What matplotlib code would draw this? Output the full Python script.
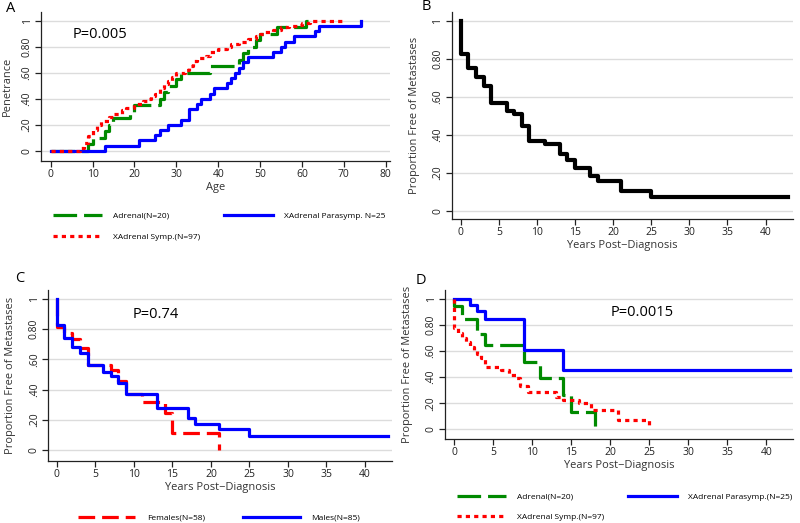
import matplotlib
matplotlib.use("Agg")
import matplotlib.pyplot as plt

plt.rcParams['font.family'] = ['Open Sans', 'DejaVu Sans']
plt.rcParams['lines.scale_dashes'] = False

# ---------------- Data ----------------
# Panel A: penetrance by age
age_adrenal = [0, 9, 10, 13, 14, 15, 19, 20, 26, 27, 28, 30, 31, 38, 45, 46, 47, 49, 50, 54, 61, 61.5]
pen_adrenal = [0, .05, .10, .15, .20, .25, .30, .35, .40, .45, .50, .55, .60, .65, .70, .75, .80, .85, .90, .95, 1.0, 1.0]

age_parasymp = [0, 13, 21, 25, 26, 28, 31, 33, 35, 36, 38, 39, 42, 43, 44, 45, 46, 47, 53, 55, 56, 58, 63, 64, 74, 74]
pen_parasymp = [0, .04, .08, .12, .16, .20, .24, .32, .36, .40, .44, .48, .52, .56, .60, .64, .68, .72, .76, .80, .84, .88, .92, .96, 1.0, 1.0]

age_symp = [0, 7, 8, 9, 10, 11, 12, 14, 15, 17, 18, 20, 22, 23, 24, 25, 26, 27, 28, 29, 30, 32, 33, 34, 35, 37,
            38, 40, 42, 43, 45, 47, 49, 50, 51, 53, 55, 57, 59, 60, 62, 70]
pen_symp = [0, .02, .06, .11, .16, .20, .23, .26, .28, .31, .33, .36, .38, .40, .42, .44, .48, .51, .54, .57, .60, .62, .65, .69, .71, .73,
            .76, .78, .80, .82, .84, .86, .88, .90, .91, .93, .95, .96, .97, .98, 1.0, 1.0]

# Panel B: overall metastasis-free
yrs_all = [0, 0, 1, 2, 3, 4, 6, 7, 8, 9, 11, 13, 14, 15, 17, 18, 21, 25, 43]
free_all = [1.0, .825, .75, .705, .655, .565, .525, .51, .445, .365, .35, .30, .265, .225, .185, .155, .105, .07, .07]

# Panel C: by sex
yrs_female = [0, 0, 1, 2, 3, 4, 7, 8, 9, 11, 14, 15, 21, 21]
free_female = [1.0, .815, .775, .735, .675, .565, .53, .455, .37, .32, .245, .115, 0.0, 0.0]
yrs_male = [0, 0, 1, 2, 3, 4, 6, 7, 8, 9, 13, 17, 18, 21, 25, 43]
free_male = [1.0, .83, .74, .68, .64, .56, .52, .49, .445, .37, .28, .21, .175, .14, .095, .095]

# Panel D: by location
yrs_adrenal = [0, 0, 1, 3, 4, 9, 11, 14, 15, 18, 18]
free_adrenal = [1.0, .95, .85, .735, .65, .52, .39, .265, .13, 0.0, 0.0]
yrs_parasymp = [0, 2, 3, 4, 9, 14, 43]
free_parasymp = [1.0, .955, .905, .85, .61, .455, .455]
yrs_symp = [0, 0, .5, 1, 1.5, 2, 2.5, 3, 3.5, 4, 6, 7, 8, 8.5, 9.5, 13, 14, 16, 17.5, 21, 25, 25]
free_symp = [1.0, .78, .74, .70, .67, .63, .61, .58, .55, .48, .455, .42, .39, .33, .29, .25, .225, .20, .145, .07, 0.0, 0.0]

ytick_vals = [0, .2, .4, .6, .8, 1]
ytick_labels = ["0", ".20", ".40", ".60", "0.80", "1"]

labels_A = ["Adrenal(N=20)", "XAdrenal Symp.(N=97)", "XAdrenal Parasymp. N=25"]
labels_C = ["Females(N=58)", "Males(N=85)"]
labels_D = ["Adrenal(N=20)", "XAdrenal Symp.(N=97)", "XAdrenal Parasymp.(N=25)"]

GREEN = '#008a00'
BLUE = '#0000ff'
RED = '#ff0000'
LW = 2.3
DASH_G = (0, (17, 5))
DOT_R = (0, (3, 3))
DASH_R = (0, (12, 5, 12, 5))
LEG_FS = 6.0

fig = plt.figure(figsize=(8, 5.23), dpi=100)
W, H = 800, 523


def axes_px(l, t, r, b):
    return fig.add_axes([l / W, 1 - b / H, (r - l) / W, (b - t) / H])


def style(ax, xlim, ylim, xticks, xlabel, ylabel, ypad=9):
    ax.set_xlim(*xlim)
    ax.set_ylim(*ylim)
    ax.set_xticks(xticks)
    ax.set_yticks(ytick_vals)
    ax.set_yticklabels(ytick_labels, rotation=90, va='center')
    ax.grid(axis='y', color='#dcdcdc', lw=1.0)
    ax.grid(axis='x', visible=False)
    ax.set_axisbelow(True)
    for s in ['top', 'right']:
        ax.spines[s].set_visible(False)
    for s in ['left', 'bottom']:
        ax.spines[s].set_linewidth(0.9)
        ax.spines[s].set_color('#222222')
    ax.tick_params(direction='out', length=4, width=0.9, color='#222222',
                   labelsize=7.5, pad=2, labelcolor='#222222')
    ax.set_xlabel(xlabel, fontsize=7.9, color='#333333', labelpad=1)
    ax.set_ylabel(ylabel, fontsize=7.9, color='#333333', labelpad=ypad)


# ---- Panel A ----
axA = axes_px(41, 12, 390, 161)
lA1, = axA.step(age_adrenal, pen_adrenal, where='post', color=GREEN, lw=LW, ls=DASH_G)
lA3, = axA.step(age_parasymp, pen_parasymp, where='post', color=BLUE, lw=LW)
lA2, = axA.step(age_symp, pen_symp, where='post', color=RED, lw=LW, ls=DOT_R)
style(axA, (-2.3, 81), (-0.079, 1.067), range(0, 81, 10), "Age", "Penetrance", ypad=6)
fig.text(73 / W, 1 - 34 / H, "P=0.005", fontsize=10.5, va='center', ha='left')
fig.text(11 / W, 1 - 8 / H, "A", fontsize=10.5, va='center', ha='center')
fig.legend([lA1, lA2, lA3], labels_A, loc='upper left', bbox_to_anchor=(53 / W, 1 - 212 / H),
           ncol=2, frameon=False, fontsize=LEG_FS, borderpad=0, borderaxespad=0,
           handlelength=5.9, handletextpad=1.3, columnspacing=2.9, labelspacing=1.55)

# ---- Panel B ----
axB = axes_px(451.7, 12, 793, 219)
axB.step(yrs_all, free_all, where='post', color='black', lw=3.0)
style(axB, (-1.2, 43.6), (-0.044, 1.046), range(0, 41, 5), "Years Post\u2212Diagnosis",
      "Proportion Free of Metastases")
fig.text(426 / W, 1 - 7 / H, "B", fontsize=10.5, va='center', ha='center')

# ---- Panel C ----
axC = axes_px(48.3, 290, 392, 461)
lC1, = axC.step(yrs_female, free_female, where='post', color=RED, lw=LW, ls=DASH_R)
lC2, = axC.step(yrs_male, free_male, where='post', color=BLUE, lw=LW)
style(axC, (-1.1, 43.5), (-0.073, 1.06), range(0, 41, 5), "Years Post\u2212Diagnosis",
      "Proportion Free of Metastases")
fig.text(133 / W, 1 - 315 / H, "P=0.74", fontsize=10.5, va='center', ha='left')
fig.text(20 / W, 1 - 278 / H, "C", fontsize=10.5, va='center', ha='center')
fig.legend([lC1, lC2], labels_C, loc='upper left', bbox_to_anchor=(78 / W, 1 - 514 / H),
           ncol=2, frameon=False, fontsize=LEG_FS, borderpad=0, borderaxespad=0,
           handlelength=6.85, handletextpad=1.43, columnspacing=4.5)

# ---- Panel D ----
axD = axes_px(445, 290, 793, 439)
lD1, = axD.step(yrs_adrenal, free_adrenal, where='post', color=GREEN, lw=LW, ls=DASH_G)
lD3, = axD.step(yrs_parasymp, free_parasymp, where='post', color=BLUE, lw=LW)
lD2, = axD.step(yrs_symp, free_symp, where='post', color=RED, lw=LW, ls=DOT_R)
style(axD, (-1.15, 43.4), (-0.075, 1.07), range(0, 41, 5), "Years Post\u2212Diagnosis",
      "Proportion Free of Metastases")
fig.text(611 / W, 1 - 313 / H, "P=0.0015", fontsize=10.5, va='center', ha='left')
fig.text(421 / W, 1 - 281 / H, "D", fontsize=10.5, va='center', ha='center')
fig.legend([lD1, lD2, lD3], labels_D, loc='upper left', bbox_to_anchor=(457 / W, 1 - 493 / H),
           ncol=2, frameon=False, fontsize=LEG_FS, borderpad=0, borderaxespad=0,
           handlelength=5.9, handletextpad=1.3, columnspacing=2.9, labelspacing=1.45)

fig.savefig("out.png", dpi=100)
